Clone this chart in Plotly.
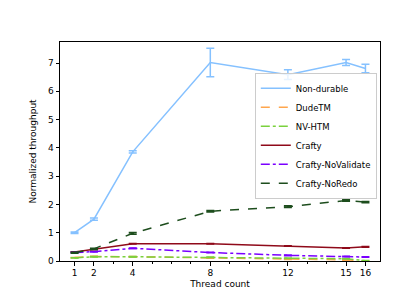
import plotly.graph_objects as go

threads = [1, 2, 4, 8, 12, 15, 16]
major_ticks = [1, 2, 4, 8, 12, 15, 16]
minor_ticks = [3, 5, 6, 7, 9, 10, 11, 13, 14]
y_ticks = [0, 1, 2, 3, 4, 5, 6, 7]

non_durable = [1.0, 1.48, 3.86, 7.02, 6.59, 7.02, 6.81]
non_durable_err = [0.03, 0.04, 0.04, 0.5, 0.17, 0.11, 0.15]
dudetm = [0.12, 0.16, 0.15, 0.11, 0.06, 0.04, 0.0]
dudetm_err = [0.005, 0.01, 0.01, 0.01, 0.01, 0.01, 0.005]
nvhtm = [0.11, 0.15, 0.15, 0.13, 0.1, 0.08, 0.01]
nvhtm_err = [0.005, 0.01, 0.01, 0.01, 0.01, 0.01, 0.005]
crafty = [0.32, 0.41, 0.61, 0.61, 0.53, 0.46, 0.5]
crafty_err = [0.01, 0.01, 0.01, 0.01, 0.01, 0.01, 0.01]
crafty_novalidate = [0.3, 0.33, 0.45, 0.3, 0.2, 0.16, 0.14]
crafty_novalidate_err = [0.01, 0.01, 0.01, 0.01, 0.01, 0.01, 0.01]
crafty_noredo = [0.29, 0.43, 0.98, 1.76, 1.92, 2.14, 2.08]
crafty_noredo_err = [0.02, 0.02, 0.03, 0.03, 0.03, 0.03, 0.02]

series = [
    ("Non-durable", non_durable, non_durable_err, "#85c1ff", "solid"),
    ("DudeTM", dudetm, dudetm_err, "#ffa64d", "dash"),
    ("NV-HTM", nvhtm, nvhtm_err, "#7ad13d", "dashdot"),
    ("Crafty", crafty, crafty_err, "#8f0a1a", "solid"),
    ("Crafty-NoValidate", crafty_novalidate, crafty_novalidate_err, "#7a00ff", "dashdot"),
    ("Crafty-NoRedo", crafty_noredo, crafty_noredo_err, "#1d4d1d", "dash"),
]

fig = go.Figure()
for name, vals, errs, color, dash in series:
    fig.add_trace(go.Scatter(
        x=threads, y=vals, name=name, mode="lines",
        line=dict(color=color, width=1.5, dash=dash),
        error_y=dict(type="data", array=errs, visible=True,
                     color=color, thickness=1.5, width=4),
    ))

font = dict(family="DejaVu Sans", size=9, color="#000000")
fig.update_layout(
    width=415, height=292,
    margin=dict(l=52, r=43, t=34, b=32),
    paper_bgcolor="white", plot_bgcolor="white",
    font=font,
    showlegend=True,
    legend=dict(
        x=0.99, y=0.284, xanchor="right", yanchor="bottom",
        bgcolor="rgba(255,255,255,0.8)", bordercolor="#cccccc", borderwidth=1,
        font=dict(family="DejaVu Sans", size=8.5, color="#000000"),
        tracegroupgap=0, itemwidth=30,
    ),
    xaxis=dict(
        range=[0.25, 16.75], tickvals=major_ticks, ticktext=[str(t) for t in major_ticks],
        ticks="outside", ticklen=3.5, tickwidth=1, tickcolor="black",
        minor=dict(tickvals=minor_ticks, ticks="outside", ticklen=2, tickwidth=0.8, tickcolor="black", showgrid=False),
        showline=True, linecolor="black", linewidth=1, mirror=True,
        showgrid=False, zeroline=False,
        title=dict(text="Thread count", font=font, standoff=3),
    ),
    yaxis=dict(
        range=[0, 7.745], tickvals=y_ticks,
        ticks="outside", ticklen=3.5, tickwidth=1, tickcolor="black",
        showline=True, linecolor="black", linewidth=1, mirror=True,
        showgrid=False, zeroline=False,
        title=dict(text="Normalized throughput", font=font, standoff=9),
    ),
)

fig.write_html("out.html")
